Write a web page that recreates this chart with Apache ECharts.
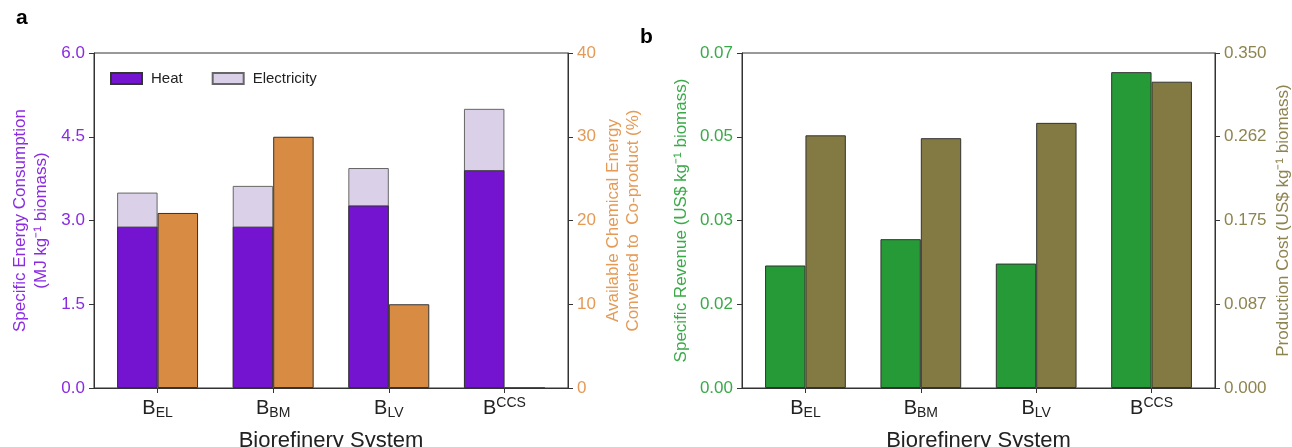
<!DOCTYPE html>
<html>
<head>
<meta charset="utf-8">
<script src="https://cdn.jsdelivr.net/npm/echarts@6/dist/echarts.min.js"></script>
<style>
html,body{margin:0;padding:0;background:#fff;}
#chart{width:1292px;height:447px;}
</style>
</head>
<body>
<div id="chart"></div>
<script>
// ---- data ----
const catMain = ['B', 'B', 'B', 'B'];
const catSub = ['EL', 'BM', 'LV', ''];
const catSup = ['', '', '', 'CCS'];
const catPos = [0, 1, 2, 3];

const heat = [2.89, 2.89, 3.27, 3.90];
const electricity = [0.61, 0.73, 0.67, 1.10];
const coproduct = [20.9, 30.0, 10.0, 0];

const revenue = [0.0256, 0.0311, 0.0260, 0.0660];
const cost = [0.264, 0.261, 0.277, 0.320];

const aLeftTicks = ['0.0', '1.5', '3.0', '4.5', '6.0'];
const aRightTicks = ['0', '10', '20', '30', '40'];
const bLeftTicks = ['0.00', '0.02', '0.03', '0.05', '0.07'];
const bRightTicks = ['0.000', '0.087', '0.175', '0.262', '0.350'];

// ---- styles ----
const FONT = 'Liberation Sans, Arial, Helvetica, sans-serif';
const C_HEAT = '#7414d0';
const C_ELEC = '#dad1e9';
const C_COPROD = '#d88c43';
const C_REV = '#259a37';
const C_COST = '#837943';
const L_PURPLE = '#8a2be2';
const L_ORANGE = '#e59a55';
const L_GREEN = '#3aaa48';
const L_OLIVE = '#8e8450';
const AX = '#333333';

const pair = (xs, ys) => xs.map((x, i) => [x, ys[i]]);
// electricity sits on top of heat: its bar reaches heat + electricity
const elecTop = heat.map((h, i) => h + electricity[i]);

function catLabel(v) {
  const i = Math.round(v);
  if (i < 0 || i >= catMain.length || Math.abs(v - i) > 1e-6) return '';
  let s = '{b|' + catMain[i] + '}';
  if (catSub[i]) s += '{sub|' + catSub[i] + '}';
  if (catSup[i]) s += '{sup|' + catSup[i] + '}';
  return s;
}

const richX = {
  b: { fontSize: 20, lineHeight: 24, color: '#222', fontFamily: FONT },
  sub: { fontSize: 14, lineHeight: 14, verticalAlign: 'bottom', color: '#222', fontFamily: FONT },
  sup: { fontSize: 14, lineHeight: 14, verticalAlign: 'top', color: '#222', fontFamily: FONT }
};

function xAxisCfg(gi, hidden) {
  return {
    type: 'value', gridIndex: gi, min: -0.55, max: 3.55, show: !hidden,
    name: hidden ? '' : 'Biorefinery System', nameLocation: 'middle', nameGap: 42,
    nameTextStyle: { fontSize: 22, color: '#222', fontFamily: FONT },
    axisLine: { show: true, onZero: false, lineStyle: { color: AX, width: 1 } },
    axisTick: { show: true, customValues: catPos, length: 5, lineStyle: { color: AX } },
    axisLabel: { customValues: catPos, formatter: catLabel, rich: richX, margin: 8 },
    splitLine: { show: false }
  };
}

function yAxisCfg(gi, pos, max, interval, ticks, color, name, nameGap, lh) {
  return {
    type: 'value', gridIndex: gi, position: pos, min: 0, max: max, interval: interval,
    name: name, nameLocation: 'middle', nameRotate: 90, nameGap: nameGap,
    nameTextStyle: { fontSize: 17, color: color, fontFamily: FONT, lineHeight: lh, align: 'center' },
    axisLine: { show: true, onZero: false, lineStyle: { color: AX, width: 1 } },
    axisTick: { show: true, length: 5, lineStyle: { color: AX } },
    axisLabel: {
      color: color, fontSize: 17, fontFamily: FONT, margin: 9,
      formatter: v => ticks[Math.round(v / interval)] || ''
    },
    splitLine: { show: false }
  };
}

const gridBase = { top: 53, bottom: 59, show: true, borderColor: AX, borderWidth: 1,
  backgroundColor: 'transparent', containLabel: false, outerBoundsMode: 'none' };

const chart = echarts.init(document.getElementById('chart'), null, { renderer: 'canvas' });
chart.setOption({
  backgroundColor: '#fff',
  animation: false,
  textStyle: { fontFamily: FONT },
  grid: [
    Object.assign({ left: 94, right: 724 }, gridBase),
    Object.assign({ left: 742, right: 77 }, gridBase)
  ],
  legend: {
    left: 105, top: 66, itemWidth: 31, itemHeight: 11, itemGap: 29,
    selectedMode: false, icon: 'rect',
    data: ['Heat', 'Electricity'],
    textStyle: { fontSize: 15, color: '#222', fontFamily: FONT, padding: [0, 0, 0, 4] }
  },
  xAxis: [xAxisCfg(0, false), xAxisCfg(1, false), xAxisCfg(0, true)],
  yAxis: [
    yAxisCfg(0, 'left', 6, 1.5, aLeftTicks, L_PURPLE, 'Specific Energy Consumption\n(MJ kg\u207B\u00B9 biomass)', 42, 21),
    yAxisCfg(0, 'right', 40, 10, aRightTicks, L_ORANGE, 'Available Chemical Energy\nConverted to  Co-product (%)', 35, 20),
    yAxisCfg(1, 'left', 0.07, 0.0175, bLeftTicks, L_GREEN, 'Specific Revenue (US$ kg\u207B\u00B9 biomass)', 51, 20),
    yAxisCfg(1, 'right', 0.35, 0.0875, bRightTicks, L_OLIVE, 'Production Cost (US$ kg\u207B\u00B9 biomass)', 58, 20)
  ],
  graphic: [
    { type: 'text', left: 16, top: 8, style: { text: 'a', font: 'bold 21px ' + FONT, fill: '#000' } },
    { type: 'text', left: 640, top: 27, style: { text: 'b', font: 'bold 21px ' + FONT, fill: '#000' } }
  ],
  series: [
    {
      name: 'Electricity', type: 'bar', xAxisIndex: 2, yAxisIndex: 0, z: 1,
      barWidth: '35%', barGap: '0%',
      itemStyle: { color: C_ELEC, borderColor: '#666', borderWidth: 1 },
      data: pair(catPos, elecTop)
    },
    {
      name: 'spacer', type: 'bar', xAxisIndex: 2, yAxisIndex: 0, z: 1,
      barWidth: '35%', barGap: '0%',
      data: pair(catPos, [null, null, null, null])
    },
    {
      name: 'Heat', type: 'bar', xAxisIndex: 0, yAxisIndex: 0, z: 3,
      barWidth: '35%', barGap: '0%',
      itemStyle: { color: C_HEAT, borderColor: '#333', borderWidth: 1 },
      data: pair(catPos, heat)
    },
    {
      name: 'Co-product', type: 'bar', xAxisIndex: 0, yAxisIndex: 1, z: 3,
      barWidth: '35%', barGap: '0%',
      itemStyle: { color: C_COPROD, borderColor: '#333', borderWidth: 1 },
      data: pair(catPos, coproduct)
    },
    {
      name: 'Revenue', type: 'bar', xAxisIndex: 1, yAxisIndex: 2,
      barWidth: '35%', barGap: '0%',
      itemStyle: { color: C_REV, borderColor: '#333', borderWidth: 1 },
      data: pair(catPos, revenue)
    },
    {
      name: 'Cost', type: 'bar', xAxisIndex: 1, yAxisIndex: 3,
      barWidth: '35%', barGap: '0%',
      itemStyle: { color: C_COST, borderColor: '#333', borderWidth: 1 },
      data: pair(catPos, cost)
    }
  ]
});
</script>
</body>
</html>
